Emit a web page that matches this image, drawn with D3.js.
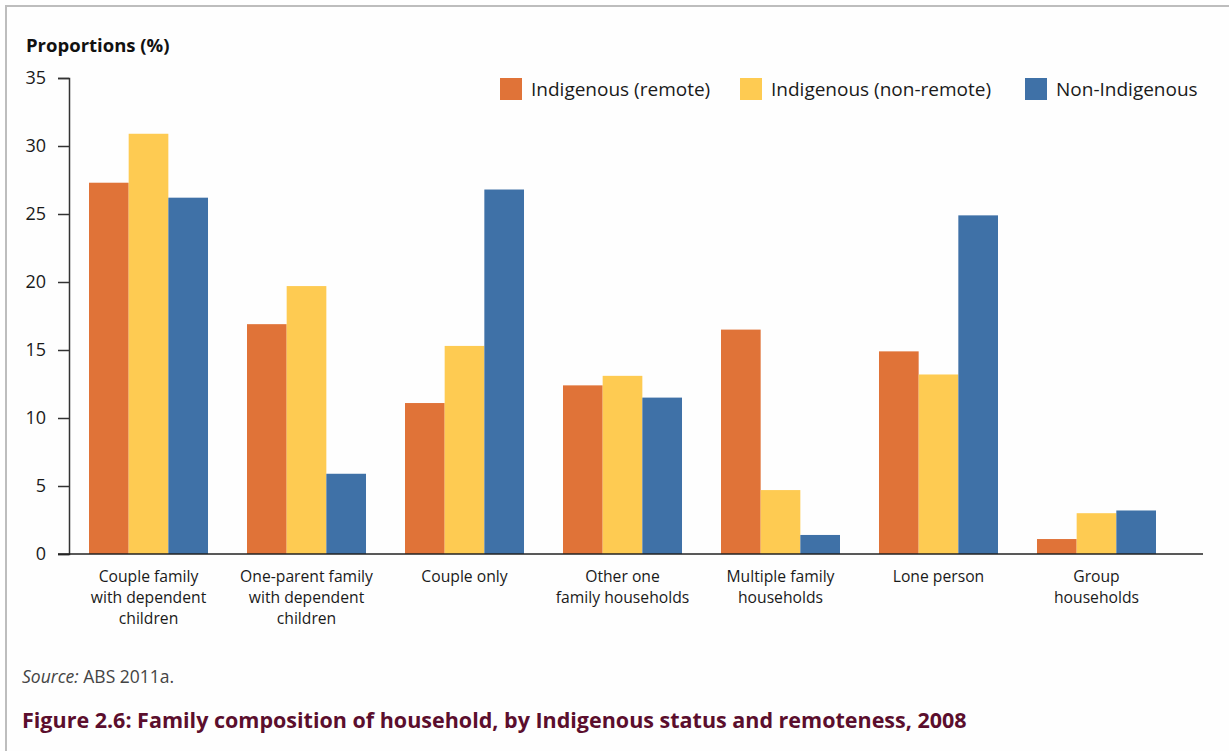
<!DOCTYPE html>
<html>
<head>
  <meta charset="utf-8">
  <title>Family composition of household</title>
  <style>
    body { margin: 0; padding: 0; background: #fefefe; }
    svg { display: block; font-family: "Open Sans", Lato, sans-serif; }
    .tick text { font-size: 18px; fill: #1a1a1a; }
    .cat { font-size: 15.7px; fill: #1a1a1a; text-anchor: middle; }
    .legend text { font-size: 19px; fill: #1a1a1a; }
  </style>
</head>
<body>
<div id="chart"></div>
<script src="https://cdnjs.cloudflare.com/ajax/libs/d3/7.8.5/d3.min.js"></script>
<script>
  // ####### DATA #######
  var categories = [
    ["Couple family", "with dependent", "children"],
    ["One-parent family", "with dependent", "children"],
    ["Couple only"],
    ["Other one", "family households"],
    ["Multiple family", "households"],
    ["Lone person"],
    ["Group", "households"]
  ]
  var seriesNames = ["Indigenous (remote)", "Indigenous (non-remote)", "Non-Indigenous"]
  var remote    = [27.3, 16.9, 11.1, 12.4, 16.5, 14.9, 1.1]
  var nonRemote = [30.9, 19.7, 15.3, 13.1, 4.7, 13.2, 3.0]
  var nonIndig  = [26.2, 5.9, 26.8, 11.5, 1.4, 24.9, 3.2]
  var yTicks = [0, 5, 10, 15, 20, 25, 30, 35]
  var colors = ["#e07338", "#fecb52", "#3f71a7"]

  var series = [remote, nonRemote, nonIndig]

  var width = 1229, height = 751

  var svg = d3.select("#chart").append("svg")
      .attr("width", width)
      .attr("height", height)

  // frame lines (left & top)
  svg.append("path")
      .attr("d", "M6,751 V6 H1229")
      .attr("fill", "none")
      .attr("stroke", "#bdbdbd")
      .attr("stroke-width", 2)

  // ####### SCALES #######
  var y = d3.scaleLinear().domain([0, 35]).range([554, 78])

  var x0 = d3.scaleBand()
      .domain(d3.range(categories.length))
      .range([69, 1176])
      .paddingInner(0.2468)
      .paddingOuter(0.1266)

  var x1 = d3.scaleBand()
      .domain(d3.range(series.length))
      .range([0, x0.bandwidth()])

  // ####### Y AXIS #######
  var yAxis = svg.append("g")
      .attr("transform", "translate(69,0)")
      .call(d3.axisLeft(y).tickValues(yTicks).tickSize(11).tickPadding(12))
  yAxis.select(".domain").attr("stroke", "#333").attr("stroke-width", 1.5)
  yAxis.selectAll(".tick line").attr("stroke", "#333").attr("stroke-width", 1.5)
  yAxis.selectAll(".tick text").attr("font-family", "'Open Sans', sans-serif")

  svg.append("text")
      .attr("x", 26).attr("y", 52)
      .attr("font-size", 18.5).attr("font-weight", "bold").attr("fill", "#111")
      .text("Proportions (%)")

  // ####### BARS #######
  var groups = svg.append("g").selectAll("g")
      .data(categories)
      .enter().append("g")
      .attr("transform", function (d, i) { return "translate(" + x0(i) + ",0)" })

  groups.selectAll("rect")
      .data(function (d, i) { return series.map(function (s, k) { return { k: k, v: s[i] } }) })
      .enter().append("rect")
      .attr("x", function (d) { return x1(d.k) })
      .attr("width", x1.bandwidth())
      .attr("y", function (d) { return y(d.v) })
      .attr("height", function (d) { return y(0) - y(d.v) })
      .attr("fill", function (d) { return colors[d.k] })

  // x axis line
  svg.append("line")
      .attr("x1", 58).attr("x2", 1203)
      .attr("y1", y(0)).attr("y2", y(0))
      .attr("stroke", "#222").attr("stroke-width", 1.5)

  // category labels
  groups.append("text")
      .attr("class", "cat")
      .attr("x", x0.bandwidth() / 2)
      .selectAll("tspan")
      .data(function (d) { return d })
      .enter().append("tspan")
      .attr("x", x0.bandwidth() / 2)
      .attr("y", function (d, i) { return 582 + i * 21 })
      .text(function (d) { return d })

  // ####### LEGEND #######
  var legendX = [500, 740, 1025]
  var legend = svg.append("g").attr("class", "legend")
      .selectAll("g")
      .data(seriesNames)
      .enter().append("g")
      .attr("transform", function (d, i) { return "translate(" + legendX[i] + ",78)" })
  legend.append("rect")
      .attr("width", 22).attr("height", 22)
      .attr("fill", function (d, i) { return colors[i] })
  legend.append("text")
      .attr("x", 31).attr("y", 18)
      .text(function (d) { return d })

  // ####### SOURCE & TITLE #######
  var src = svg.append("text")
      .attr("x", 22).attr("y", 683)
      .attr("font-size", 17.5).attr("fill", "#444")
  src.append("tspan").attr("font-style", "italic").text("Source:")
  src.append("tspan").text(" ABS 2011a.")

  svg.append("text")
      .attr("x", 22).attr("y", 728)
      .attr("font-size", 21.5).attr("font-weight", "bold").attr("fill", "#5b0e2d")
      .text("Figure 2.6: Family composition of household, by Indigenous status and remoteness, 2008")
</script>
</body>
</html>
